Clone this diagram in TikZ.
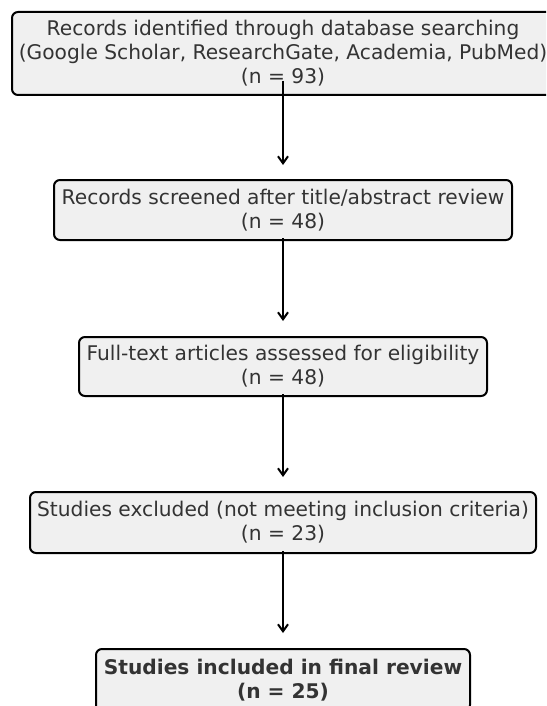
\documentclass[tikz,border=0pt]{standalone}
\usepackage{fontspec}
\setmainfont{DejaVu Sans}
\usetikzlibrary{arrows.meta}
\definecolor{boxfill}{HTML}{F0F0F0}
\definecolor{txt}{HTML}{333333}
\begin{document}
\begin{tikzpicture}[x=1pt,y=-1pt,
  flowbox/.style={draw=black, line width=2pt, fill=boxfill, rounded corners=6pt,
    text=txt, align=center, inner sep=0pt,
    font=\fontsize{20.2}{24}\selectfont},
  flowarrow/.style={line width=2pt, -{Straight Barb[length=7pt,width=10pt,line width=2pt]}}]
\useasboundingbox (0,0) rectangle (546,706);
\clip (0,0) rectangle (546,706);
\node[flowbox, minimum width=542pt, minimum height=83pt] (b1) at (283,53.5)
  {Records identified through database searching\\(Google Scholar, ResearchGate, Academia, PubMed)\\(n = 93)};
\node[flowbox, minimum width=458pt, minimum height=60pt] (b2) at (283,210)
  {Records screened after title/abstract review\\(n = 48)};
\node[flowbox, minimum width=408pt, minimum height=59pt] (b3) at (283,366.5)
  {Full-text articles assessed for eligibility\\(n = 48)};
\node[flowbox, minimum width=506pt, minimum height=61pt] (b4) at (283,522.5)
  {Studies excluded (not meeting inclusion criteria)\\(n = 23)};
\node[flowbox, minimum width=374pt, minimum height=62pt, font=\fontsize{20.2}{24}\selectfont\bfseries] (b5) at (283,680)
  {Studies included in final review\\(n = 25)};
\draw[flowarrow] ([yshift=15pt]b1.south) -- ([yshift=14pt]b2.north);
\draw[flowarrow] ([yshift=3pt]b2.south) -- ([yshift=15pt]b3.north);
\draw[flowarrow] ([yshift=3pt]b3.south) -- ([yshift=14pt]b4.north);
\draw[flowarrow] ([yshift=3pt]b4.south) -- ([yshift=15pt]b5.north);
\end{tikzpicture}
\end{document}
